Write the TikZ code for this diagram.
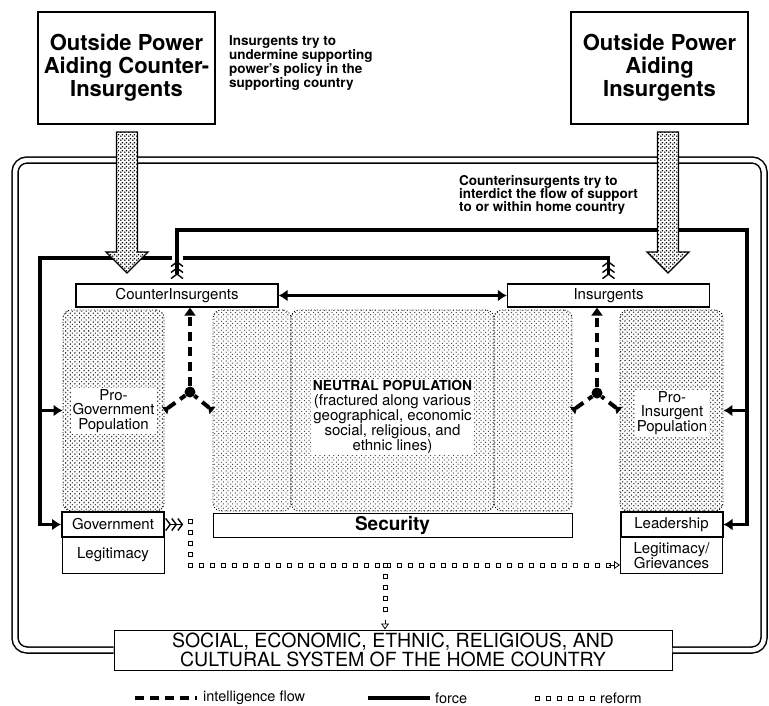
\documentclass[tikz,border=0pt]{standalone}
\usepackage{fontspec}
\setmainfont{TeX Gyre Heros}
\usetikzlibrary{arrows.meta,patterns,decorations.markings}

% fill patterns of the population blocks and supply arrows
\pgfdeclarepatternformonly{vwave}{\pgfpoint{-1pt}{-1pt}}{\pgfpoint{6pt}{6pt}}{\pgfpoint{4.6pt}{4.4pt}}{%
  \pgfsetlinewidth{1pt}
  \pgfpathmoveto{\pgfpoint{1pt}{0pt}}
  \pgfpathlineto{\pgfpoint{3.4pt}{2.2pt}}
  \pgfpathlineto{\pgfpoint{1pt}{4.4pt}}
  \pgfusepath{stroke}}
\pgfdeclarepatternformonly{hwave}{\pgfpoint{-1pt}{-1pt}}{\pgfpoint{6pt}{6pt}}{\pgfpoint{4.4pt}{4.4pt}}{%
  \pgfsetlinewidth{1pt}
  \pgfpathmoveto{\pgfpoint{0pt}{1pt}}
  \pgfpathlineto{\pgfpoint{2.2pt}{3.2pt}}
  \pgfpathlineto{\pgfpoint{4.4pt}{1pt}}
  \pgfusepath{stroke}}
\pgfdeclarepatternformonly{hatch}{\pgfpoint{-1pt}{-1pt}}{\pgfpoint{6pt}{6pt}}{\pgfpoint{4.6pt}{4.4pt}}{%
  \pgfsetlinewidth{0.9pt}
  \pgfpathmoveto{\pgfpoint{0.5pt}{0.5pt}}
  \pgfpathlineto{\pgfpoint{3.3pt}{3.9pt}}
  \pgfusepath{stroke}}
\pgfdeclarepatternformonly{stipple}{\pgfpointorigin}{\pgfpoint{4pt}{4pt}}{\pgfpoint{4pt}{4pt}}{%
  \pgfpathcircle{\pgfpoint{1pt}{1pt}}{1.05pt}
  \pgfpathcircle{\pgfpoint{3pt}{2.9pt}}{1.05pt}
  \pgfusepath{fill}}

\tikzset{
  outside/.style={draw, line width=1.6pt, fill=white, minimum width=177pt,
    minimum height=112pt, align=center, font=\fontsize{22}{23}\selectfont\bfseries},
  actor/.style={draw, line width=1.4pt, fill=white, minimum width=202pt,
    minimum height=23pt, inner sep=0pt, font=\fontsize{15}{17}\selectfont},
  population/.style={draw, dotted, line width=0.9pt, rounded corners=8pt,
    minimum height=201pt, inner sep=0pt, pattern color=black!80},
  poptext/.style={fill=white, align=center, inner sep=1.5pt,
    font=\fontsize{15}{14.5}\selectfont},
  leader/.style={draw, line width=2pt, fill=white, minimum width=102pt,
    minimum height=25pt, inner sep=0pt, font=\fontsize{15}{17}\selectfont},
  basebox/.style={draw, line width=1pt, fill=white, minimum width=102pt,
    minimum height=36pt, inner sep=0pt, align=center, font=\fontsize{15}{15.5}\selectfont},
  note/.style={anchor=north west, inner sep=0pt, align=left,
    font=\fontsize{13.5}{14}\selectfont\bfseries},
  legendtext/.style={anchor=west, inner sep=0pt, font=\fontsize{14.5}{16}\selectfont},
  frame/.style={line width=1.5pt, double distance=4.5pt, rounded corners=12pt},
  force/.style={line width=3.6pt, -{Latex[length=9pt,width=12pt]}},
  fletch/.tip={Straight Barb[reversed,line width=1.4pt,length=4.5pt,width=12pt]
    Straight Barb[reversed,line width=1.4pt,length=4.5pt,width=12pt]
    Straight Barb[reversed,line width=1.4pt,length=4.5pt,width=12pt]},
  intel/.style={line width=4pt, dash pattern=on 9pt off 6pt,
    -{Triangle[length=8pt,width=11pt]}},
  junction/.style={circle, fill, inner sep=0pt, minimum size=11pt},
  reform/.style={decoration={markings, mark=between positions 0 and 1 step 11pt
    with {\draw[line width=0.8pt, fill=white] (-2pt,-2pt) rectangle (2pt,2pt);}},
    postaction={decorate}},
  reformtip/.style={line width=0.8pt, -{Triangle[open,length=6pt,width=8pt]}},
  supply/.style={line width=1.3pt, preaction={fill=white}, pattern=stipple,
    pattern color=black, line join=miter}
}

% stippled outside-support arrow, #1 = x of its axis
\newcommand{\supplyarrow}[1]{%
  \draw[supply] ({#1-10.5},132) -- ({#1+10.5},132) -- ({#1+10.5},252) -- ({#1+21},252)
    -- (#1,273) -- ({#1-21},252) -- ({#1-10.5},252) -- cycle;
}

\begin{document}
\begin{tikzpicture}[x=1pt,y=-1pt]
  \useasboundingbox (0,0) rectangle (769,705);

  % outside powers
  \node[outside] (outL) at (126.5,68) {Outside Power\\Aiding Counter-\\Insurgents};
  \node[outside] (outR) at (659.5,68) {Outside Power\\Aiding\\Insurgents};
  \node[note] (noteL) at (229,35) {Insurgents try to\\undermine supporting\\power's policy in the\\supporting country};
  \node[note, font=\fontsize{13.5}{13.2}\selectfont\bfseries] (noteR) at (459,175)
    {Counterinsurgents try to\\interdict the flow of support\\to or within home country};

  % actors
  \node[actor] (ci) at (177,295.5) {CounterInsurgents};
  \node[actor] (ins) at (608.5,295.5) {Insurgents};

  % populations
  \node[population, pattern=vwave, minimum width=101pt] (progov) at (113.5,410.5) {};
  \node[population, pattern=hatch, minimum width=78pt] (nl) at (252,410.5) {};
  \node[population, pattern=hatch, minimum width=203pt] (nm) at (392.5,410.5) {};
  \node[population, pattern=hatch, minimum width=78pt] (nr) at (533,410.5) {};
  \node[population, pattern=hwave, minimum width=103pt] (proins) at (671.5,410.5) {};
  \node[poptext] (progovtext) at (113.5,411) {Pro-\\Government\\Population};
  \node[poptext, font=\fontsize{15}{15}\selectfont] (nmtext) at (392.5,417)
    {{\fontsize{13.8}{15}\selectfont\bfseries NEUTRAL POPULATION}\\(fractured along various\\geographical, economic\\social, religious, and\\ethnic lines)};
  \node[poptext] (proinstext) at (672,413) {Pro-\\Insurgent\\Population};

  % government, security, leadership
  \node[leader] (gov) at (113,524.5) {Government};
  \node[basebox] (legit) at (113,555) {Legitimacy};
  \node[draw, line width=1pt, fill=white, minimum width=359pt, minimum height=24pt,
    inner sep=0pt, font=\fontsize{19}{20}\selectfont\bfseries] (sec) at (392.5,525) {Security};
  \node[leader] (lead) at (671.5,524.5) {Leadership};
  \node[basebox] (leggriev) at (671.5,555.5) {Legitimacy/\\Grievances};

  % home country
  \node[draw, line width=1pt, fill=white, minimum width=558pt, minimum height=40pt,
    inner sep=0pt, align=center, font=\fontsize{19.5}{14.5}\selectfont] (social) at (393,650)
    {SOCIAL, ECONOMIC, ETHNIC, RELIGIOUS, AND\\CULTURAL SYSTEM OF THE HOME COUNTRY};

  % frame of the home country
  \draw[frame] (social.west) -- (15,650) -- (15,160) -- (764,160) -- (764,650) -- (social.east);

  % force
  \coordinate (bL) at (40,258);
  \coordinate (aR) at (747,230);
  \draw[force, {fletch}-{Latex[length=9pt,width=12pt]}] ([yshift=4pt]ins.north) |- (bL)
    -- (bL |- gov.west) -- (gov.west);
  \draw[force] (bL |- progov.west) -- (progov.west);
  \draw[white, line width=11pt] ([yshift=4pt]ci.north) -- ++(0,-40);
  \draw[force, {fletch}-{Latex[length=9pt,width=12pt]}] ([yshift=4pt]ci.north) |- (aR)
    -- (aR |- lead.east) -- (lead.east);
  \draw[force] (aR |- proins.east) -- (proins.east);
  \draw[force, {Latex[length=9pt,width=12pt]}-{Latex[length=9pt,width=12pt]}] (ci.east) -- (ins.west);

  % outside support
  \supplyarrow{127}
  \supplyarrow{668}

  % intelligence
  \node[junction] (dotL) at (190,392) {};
  \node[junction] (dotR) at (597,393) {};
  \draw[intel] (dotL) -- (dotL |- ci.south);
  \draw[intel] (dotR) -- (dotR |- ins.south);
  \draw[intel, {Triangle[reversed,length=6pt,width=9pt]}-] (progov.east) -- (dotL);
  \draw[intel, {Triangle[reversed,length=6pt,width=9pt]}-] (nl.west) -- (dotL);
  \draw[intel, {Triangle[reversed,length=6pt,width=9pt]}-] (nr.east) -- (dotR);
  \draw[intel, {Triangle[reversed,length=6pt,width=9pt]}-] (proins.west) -- (dotR);

  % reform
  \coordinate (rturn) at (190,565);
  \coordinate (rsplit) at (385,565);
  \draw[line width=0.8pt, {fletch}-] (gov.east) -- ++(17,0);
  \path[reform] ([yshift=3.5pt]rturn |- gov.east) -- (rturn) -- ([xshift=-11pt]rturn -| leggriev.west);
  \draw[reformtip] ([xshift=-11pt]rturn -| leggriev.west) -- (rturn -| leggriev.west);
  \path[reform] (rsplit) -- ([yshift=10pt]rsplit |- social.north);
  \draw[reformtip] ([yshift=10pt]rsplit |- social.north) -- (rsplit |- social.north);

  % legend
  \draw[intel, -] (135,698) -- (197,698);
  \node[legendtext] (lgintel) at (203,698) {intelligence flow};
  \draw[line width=4.5pt] (368,698) -- (430,698);
  \node[legendtext] (lgforce) at (435,698) {force};
  \path[reform] (537,698) -- (592.5,698);
  \node[legendtext] (lgreform) at (600,698) {reform};
\end{tikzpicture}
\end{document}
